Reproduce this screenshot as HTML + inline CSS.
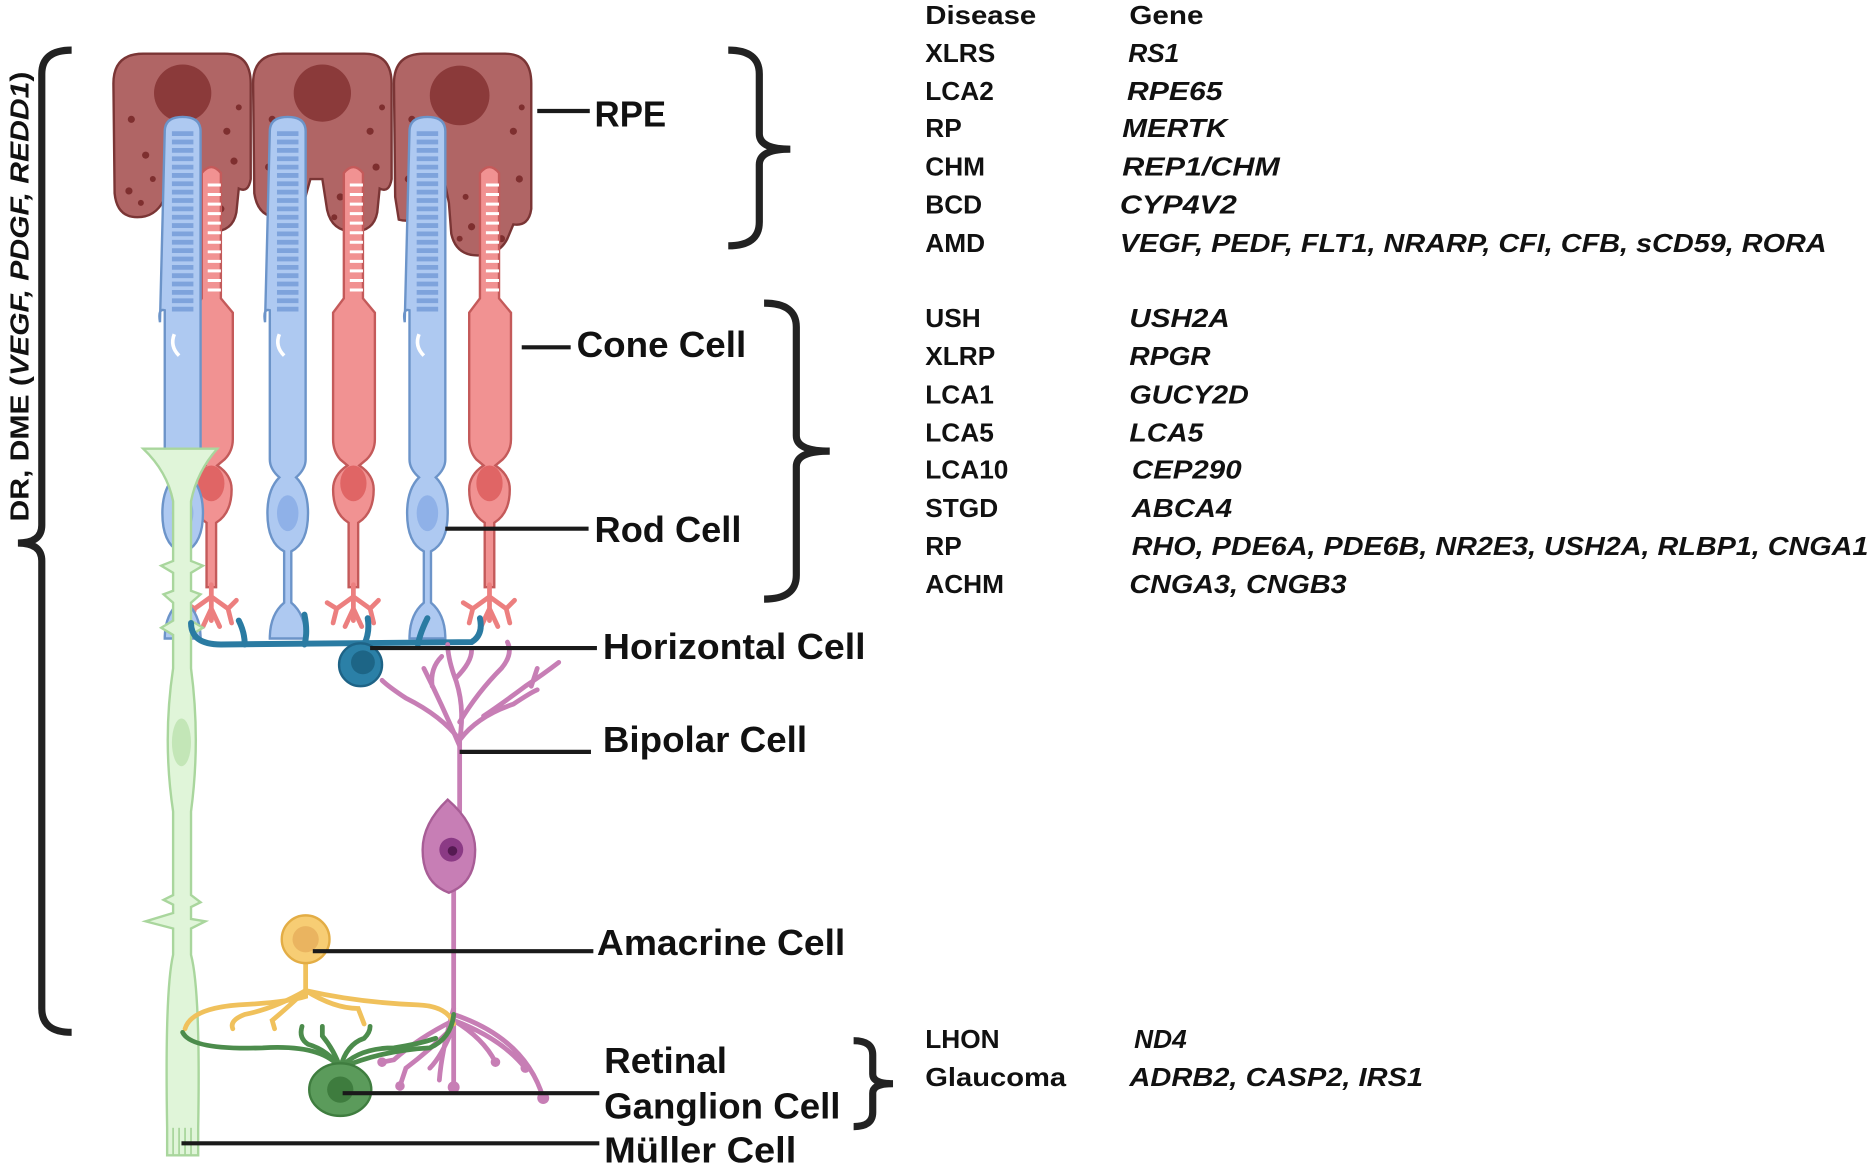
<!DOCTYPE html>
<html><head><meta charset="utf-8"><style>
html,body{margin:0;padding:0;background:#fff;}
svg{display:block}
.t{font-family:"Liberation Sans",sans-serif;font-weight:bold;fill:#111;}
.lb{font-size:30px;}
.tb{font-size:22px;}
.it{font-style:italic;}
</style></head><body>
<svg width="1872" height="1166" viewBox="0 0 1568 977" preserveAspectRatio="none" xmlns="http://www.w3.org/2000/svg">
<rect width="1568" height="977" fill="#fff"/>
<!-- braces -->
<g fill="none" stroke="#222" stroke-width="6" stroke-linecap="butt">
<path d="M60,42 Q35,42 35,62 L35,440 Q35,455 15,455 Q35,455 35,470 L35,845 Q35,865 60,865"/>
<path d="M610,42 Q636,42 636,62 L636,112 Q636,125 662,125 Q636,125 636,138 L636,186 Q636,206 610,206"/>
<path d="M640,254 Q667,254 667,274 L667,365 Q667,378 695,378 Q667,378 667,391 L667,482 Q667,502 640,502"/>
<path d="M715,872 Q731,872 731,884 L731,900 Q731,908 748,908 Q731,908 731,916 L731,932 Q731,944 715,944"/>
</g>
<text class="t" transform="translate(24,437) rotate(-90)" font-size="22" textLength="377" lengthAdjust="spacingAndGlyphs">DR, DME (<tspan class="it">VEGF, PDGF, REDD1</tspan>)</text>

<!-- RPE -->
<g fill="#b06565" stroke="#7a3535" stroke-width="2">
<path d="M95,70 Q95,45 120,45 L188,45 Q210,45 210,70 L210,150 Q208,162 200,158 L198,178 Q195,194 178,194 Q160,194 156,176 L152,150 L142,150 L137,168 Q130,182 115,182 Q98,182 96,162 Z"/>
<path d="M212,70 Q212,45 237,45 L305,45 Q328,45 328,70 L328,150 Q326,162 318,158 L316,178 Q313,194 296,194 Q278,194 274,176 L270,150 L260,150 L255,168 Q248,182 233,182 Q216,182 213,162 Z"/>
<path d="M330,70 Q330,45 355,45 L423,45 Q445,45 445,70 L445,175 Q443,190 430,188 L425,200 Q418,214 400,214 Q382,214 378,196 L376,170 L372,150 L362,155 L356,175 Q348,188 334,184 L331,165 Z"/>
</g>
<g fill="#8b3a3a"><circle cx="153" cy="78" r="24"/><circle cx="270" cy="78" r="24"/><circle cx="385" cy="80" r="25"/></g>
<g fill="#7e2f2f">
<circle cx="110" cy="100" r="3"/><circle cx="122" cy="130" r="3"/><circle cx="108" cy="160" r="3"/><circle cx="128" cy="150" r="2.5"/><circle cx="190" cy="110" r="3"/><circle cx="196" cy="135" r="3"/><circle cx="170" cy="160" r="3"/><circle cx="185" cy="175" r="3"/><circle cx="200" cy="90" r="2.5"/><circle cx="118" cy="170" r="2.5"/><circle cx="165" cy="180" r="2.5"/>
<circle cx="228" cy="100" r="3"/><circle cx="240" cy="160" r="3"/><circle cx="225" cy="140" r="3"/><circle cx="310" cy="110" r="3"/><circle cx="315" cy="140" r="3"/><circle cx="285" cy="165" r="3"/><circle cx="300" cy="180" r="3"/><circle cx="320" cy="90" r="2.5"/><circle cx="232" cy="170" r="2.5"/><circle cx="280" cy="182" r="2.5"/>
<circle cx="345" cy="100" r="3"/><circle cx="342" cy="150" r="3"/><circle cx="350" cy="170" r="3"/><circle cx="430" cy="110" r="3"/><circle cx="435" cy="150" r="3"/><circle cx="395" cy="190" r="3"/><circle cx="420" cy="200" r="3"/><circle cx="390" cy="165" r="2.5"/><circle cx="437" cy="90" r="2.5"/><circle cx="385" cy="200" r="2.5"/>
</g>

<!-- cones -->
<g fill="#f19292" stroke="#c45a5a" stroke-width="2">
<path d="M169,145 Q177,135 185,145 L185,250 L195,262 L195,368 Q195,378 188,385 L182,390 Q194,398 194,410 Q194,430 181,438 L181,492 L173,492 L173,438 Q160,430 160,410 Q160,398 172,390 L166,385 Q160,378 160,368 L160,262 L169,250 Z"/>
<path d="M288,145 Q296,135 304,145 L304,250 L314,262 L314,368 Q314,378 307,385 L301,390 Q313,398 313,410 Q313,430 300,438 L300,492 L292,492 L292,438 Q279,430 279,410 Q279,398 291,390 L285,385 Q279,378 279,368 L279,262 L288,250 Z"/>
<path d="M402,145 Q410,135 418,145 L418,250 L428,262 L428,368 Q428,378 421,385 L415,390 Q427,398 427,410 Q427,430 414,438 L414,492 L406,492 L406,438 Q393,430 393,410 Q393,398 405,390 L399,385 Q393,378 393,368 L393,262 L402,250 Z"/>
</g>
<g fill="#e06565"><ellipse cx="177" cy="405" rx="11" ry="15"/><ellipse cx="296" cy="405" rx="11" ry="15"/><ellipse cx="410" cy="405" rx="11" ry="15"/></g>
<g stroke="#fff" stroke-width="2.5">
<path d="M174,155h11M174,163h11M174,171h11M174,179h11M174,187h11M174,195h11M174,203h11M174,211h11M174,219h11M174,227h11M174,235h11M174,243h11"/>
<path d="M293,155h11M293,163h11M293,171h11M293,179h11M293,187h11M293,195h11M293,203h11M293,211h11M293,219h11M293,227h11M293,235h11M293,243h11"/>
<path d="M407,155h11M407,163h11M407,171h11M407,179h11M407,187h11M407,195h11M407,203h11M407,211h11M407,219h11M407,227h11M407,235h11M407,243h11"/>
</g>
<g fill="none" stroke="#ec7f7f" stroke-width="4" stroke-linecap="round">
<path d="M177,490 L177,520 M177,500 L163,510 L160,522 M163,510 L155,505 M177,500 L191,510 L194,522 M191,510 L198,503 M177,510 L170,525 M177,510 L184,525"/>
<path d="M296,490 L296,520 M296,500 L282,510 L279,522 M282,510 L274,505 M296,500 L310,510 L313,522 M310,510 L317,503 M296,510 L289,525 M296,510 L303,525"/>
<path d="M410,490 L410,520 M410,500 L396,510 L393,522 M396,510 L388,505 M410,500 L424,510 L427,522 M424,510 L431,503 M410,510 L403,525 M410,510 L417,525"/>
</g>

<!-- rods -->
<g fill="#aec9f1" stroke="#6c94c9" stroke-width="2">
<path d="M138,110 Q138,98 153,98 Q168,98 168,110 L168,385 Q168,393 160,400 Q170,410 170,430 Q170,455 156,462 L156,505 Q168,515 168,535 L138,535 Q138,515 150,505 L150,462 Q136,455 136,430 Q136,410 146,400 Q138,393 138,385 L138,260 Q132,258 134,270 Z"/>
<path d="M226,110 Q226,98 241,98 Q256,98 256,110 L256,385 Q256,393 248,400 Q258,410 258,430 Q258,455 244,462 L244,505 Q256,515 256,535 L226,535 Q226,515 238,505 L238,462 Q224,455 224,430 Q224,410 234,400 Q226,393 226,385 L226,260 Q220,258 222,270 Z"/>
<path d="M343,110 Q343,98 358,98 Q373,98 373,110 L373,385 Q373,393 365,400 Q375,410 375,430 Q375,455 361,462 L361,505 Q373,515 373,535 L343,535 Q343,515 355,505 L355,462 Q341,455 341,430 Q341,410 351,400 Q343,393 343,385 L343,260 Q337,258 339,270 Z"/>
</g>
<g fill="#8fb1e8"><ellipse cx="153" cy="430" rx="9" ry="15"/><ellipse cx="241" cy="430" rx="9" ry="15"/><ellipse cx="358" cy="430" rx="9" ry="15"/></g>
<g stroke="#7ea3dc" stroke-width="4">
<path d="M144,112h18M144,119h18M144,126h18M144,133h18M144,140h18M144,147h18M144,154h18M144,161h18M144,168h18M144,175h18M144,182h18M144,189h18M144,196h18M144,203h18M144,210h18M144,217h18M144,224h18M144,231h18M144,238h18M144,245h18M144,252h18M144,259h18"/>
<path d="M232,112h18M232,119h18M232,126h18M232,133h18M232,140h18M232,147h18M232,154h18M232,161h18M232,168h18M232,175h18M232,182h18M232,189h18M232,196h18M232,203h18M232,210h18M232,217h18M232,224h18M232,231h18M232,238h18M232,245h18M232,252h18M232,259h18"/>
<path d="M349,112h18M349,119h18M349,126h18M349,133h18M349,140h18M349,147h18M349,154h18M349,161h18M349,168h18M349,175h18M349,182h18M349,189h18M349,196h18M349,203h18M349,210h18M349,217h18M349,224h18M349,231h18M349,238h18M349,245h18M349,252h18M349,259h18"/>
</g>
<g fill="none" stroke="#fff" stroke-width="3"><path d="M146,280 Q142,290 150,298"/><path d="M234,280 Q230,290 238,298"/><path d="M351,280 Q347,290 355,298"/></g>

<!-- Muller cell (over rods) -->
<path d="M120,376 L182,376 Q165,395 160,420 L160,470 L170,474 L160,480 L160,495 L168,498 L160,505 L160,520 L170,526 L160,532 L160,560 Q168,620 160,680 L160,750 L168,756 L160,760 L160,770 L172,772 L160,778 L160,800 Q168,830 166,945 L166,968 L140,968 L140,945 Q138,830 145,800 L145,778 L122,772 L145,765 L145,758 L137,754 L145,750 L145,680 Q136,620 145,560 L145,532 L135,526 L145,520 L145,505 L137,498 L145,495 L145,480 L135,474 L145,470 L145,420 Q140,395 120,376 Z" fill="#e0f5d9" stroke="#a9d69d" stroke-width="2"/>
<ellipse cx="152" cy="622" rx="8" ry="20" fill="#c3e6b7"/>
<g stroke="#a9d69d" stroke-width="1.5"><line x1="145" y1="945" x2="145" y2="968"/><line x1="150" y1="945" x2="150" y2="968"/><line x1="155" y1="945" x2="155" y2="968"/><line x1="160" y1="945" x2="160" y2="968"/></g>

<!-- Horizontal cell -->
<g fill="none" stroke="#2a7ba2" stroke-width="5" stroke-linecap="round">
<path d="M160,522 Q160,540 185,540 L395,538 Q405,532 402,518"/>
<path d="M205,540 Q205,530 200,520 M255,540 Q258,530 255,515 M305,540 Q310,530 308,518 M350,540 Q352,530 358,518"/>
</g>
<circle cx="302" cy="557" r="18" fill="#2b80a7" stroke="#1e6386" stroke-width="2"/>
<circle cx="304" cy="555" r="10" fill="#1d6586"/>

<!-- Bipolar -->
<g fill="none" stroke="#c77eb5" stroke-width="4" stroke-linecap="round">
<path d="M385,680 L385,620 Q370,600 340,585 Q325,575 320,570"/>
<path d="M385,625 Q370,590 355,560 M362,575 Q360,560 370,550"/>
<path d="M385,620 Q390,590 380,565 Q375,550 375,540 M382,568 Q395,555 395,545"/>
<path d="M385,620 Q400,600 430,590 Q445,580 450,578 M405,600 Q420,590 440,575 Q455,565 468,555 M445,575 L450,560"/>
<path d="M385,605 Q400,580 420,560 Q430,548 425,538"/>
<path d="M380,740 L380,910"/>
<path d="M380,855 Q350,870 330,888 L320,890 M380,860 Q360,880 340,895 L335,910 M380,860 Q370,885 360,895 M380,855 Q405,870 415,890 M380,855 Q420,870 440,895 M380,850 Q440,870 455,920 M380,845 Q370,880 368,905"/>
</g>
<path d="M375,670 Q398,690 398,712 Q398,740 376,748 Q354,740 354,712 Q354,690 375,670 Z" fill="#c77eb5" stroke="#a85d96" stroke-width="2"/>
<circle cx="378" cy="712" r="10" fill="#8b3a85"/><circle cx="379" cy="713" r="4" fill="#551a52"/>
<g fill="#c77eb5"><circle cx="380" cy="911" r="5"/><circle cx="455" cy="920" r="5"/><circle cx="415" cy="890" r="4"/><circle cx="335" cy="910" r="4"/><circle cx="320" cy="890" r="4"/><circle cx="440" cy="895" r="4"/></g>

<!-- Amacrine -->
<g fill="none" stroke="#f0c15c" stroke-width="4" stroke-linecap="round">
<path d="M256,805 L256,835 Q240,840 200,842 Q160,845 155,862"/>
<path d="M256,830 Q230,845 205,850 Q192,855 195,862"/>
<path d="M256,830 Q240,845 228,855 L230,862"/>
<path d="M256,830 Q280,845 300,845 L305,858"/>
<path d="M256,830 Q300,840 350,842 Q375,843 380,858"/>
</g>
<circle cx="256" cy="787" r="20" fill="#f7cd74" stroke="#e3ad45" stroke-width="2"/>
<circle cx="256" cy="787" r="11" fill="#eab460"/>

<!-- Ganglion -->
<g fill="none" stroke="#4c8c4c" stroke-width="4" stroke-linecap="round">
<path d="M285,895 Q270,875 220,878 Q160,880 153,865"/>
<path d="M285,895 Q275,880 258,875 Q250,870 253,860"/>
<path d="M285,895 Q280,880 270,868 L270,860"/>
<path d="M285,895 Q300,878 330,878 Q350,875 365,870"/>
<path d="M285,895 Q320,880 360,878 Q378,870 380,850"/>
<path d="M285,895 Q290,875 305,870 Q310,865 310,860"/>
</g>
<ellipse cx="285" cy="913" rx="26" ry="22" fill="#5b9b5b" stroke="#3f7d3f" stroke-width="2"/>
<circle cx="285" cy="913" r="11" fill="#3e7c3e"/>

<!-- leader lines -->
<g stroke="#1a1a1a" stroke-width="3.5">
<line x1="450" y1="93" x2="494" y2="93"/>
<line x1="437" y1="291" x2="478" y2="291"/>
<line x1="373" y1="443" x2="493" y2="443"/>
<line x1="310" y1="543" x2="500" y2="543"/>
<line x1="385" y1="630" x2="495" y2="630"/>
<line x1="262" y1="797" x2="497" y2="797"/>
<line x1="287" y1="916" x2="502" y2="916"/>
<line x1="152" y1="958" x2="502" y2="958"/>
</g>

<!-- labels -->
<g class="t lb">
<text x="498" y="106" textLength="60" lengthAdjust="spacingAndGlyphs">RPE</text>
<text x="483" y="299" textLength="142" lengthAdjust="spacingAndGlyphs">Cone Cell</text>
<text x="498" y="454" textLength="123" lengthAdjust="spacingAndGlyphs">Rod Cell</text>
<text x="505" y="552" textLength="220" lengthAdjust="spacingAndGlyphs">Horizontal Cell</text>
<text x="505" y="630" textLength="171" lengthAdjust="spacingAndGlyphs">Bipolar Cell</text>
<text x="500" y="800" textLength="208" lengthAdjust="spacingAndGlyphs">Amacrine Cell</text>
<text x="506" y="899" textLength="103" lengthAdjust="spacingAndGlyphs">Retinal</text>
<text x="506" y="937" textLength="198" lengthAdjust="spacingAndGlyphs">Ganglion Cell</text>
<text x="506" y="974" textLength="161" lengthAdjust="spacingAndGlyphs">Müller Cell</text>
</g>

<!-- table -->
<g class="t tb">
<text x="775" y="20" textLength="93" lengthAdjust="spacingAndGlyphs">Disease</text>
<text x="946" y="20" textLength="62" lengthAdjust="spacingAndGlyphs">Gene</text>
<text x="775" y="52">XLRS</text>
<text x="775" y="84">LCA2</text>
<text x="775" y="115">RP</text>
<text x="775" y="147">CHM</text>
<text x="775" y="179">BCD</text>
<text x="775" y="211">AMD</text>
<text x="775" y="274">USH</text>
<text x="775" y="306">XLRP</text>
<text x="775" y="338">LCA1</text>
<text x="775" y="370">LCA5</text>
<text x="775" y="401">LCA10</text>
<text x="775" y="433">STGD</text>
<text x="775" y="465">RP</text>
<text x="775" y="497">ACHM</text>
<text x="775" y="878">LHON</text>
<text x="775" y="910" textLength="118" lengthAdjust="spacingAndGlyphs">Glaucoma</text>
</g>
<g class="t tb it">
<text x="945" y="52">RS1</text>
<text x="944" y="84" textLength="80" lengthAdjust="spacingAndGlyphs">RPE65</text>
<text x="940" y="115" textLength="88" lengthAdjust="spacingAndGlyphs">MERTK</text>
<text x="940" y="147" textLength="132" lengthAdjust="spacingAndGlyphs">REP1/CHM</text>
<text x="938" y="179" textLength="98" lengthAdjust="spacingAndGlyphs">CYP4V2</text>
<text x="938" y="211" textLength="592" lengthAdjust="spacingAndGlyphs">VEGF, PEDF, FLT1, NRARP, CFI, CFB, sCD59, RORA</text>
<text x="946" y="274" textLength="84" lengthAdjust="spacingAndGlyphs">USH2A</text>
<text x="946" y="306" textLength="68" lengthAdjust="spacingAndGlyphs">RPGR</text>
<text x="946" y="338" textLength="100" lengthAdjust="spacingAndGlyphs">GUCY2D</text>
<text x="946" y="370" textLength="62" lengthAdjust="spacingAndGlyphs">LCA5</text>
<text x="948" y="401" textLength="92" lengthAdjust="spacingAndGlyphs">CEP290</text>
<text x="948" y="433" textLength="84" lengthAdjust="spacingAndGlyphs">ABCA4</text>
<text x="948" y="465" textLength="617" lengthAdjust="spacingAndGlyphs">RHO, PDE6A, PDE6B, NR2E3, USH2A, RLBP1, CNGA1</text>
<text x="946" y="497" textLength="182" lengthAdjust="spacingAndGlyphs">CNGA3, CNGB3</text>
<text x="950" y="878">ND4</text>
<text x="946" y="910" textLength="246" lengthAdjust="spacingAndGlyphs">ADRB2, CASP2, IRS1</text>
</g>
</svg>
</body></html>
